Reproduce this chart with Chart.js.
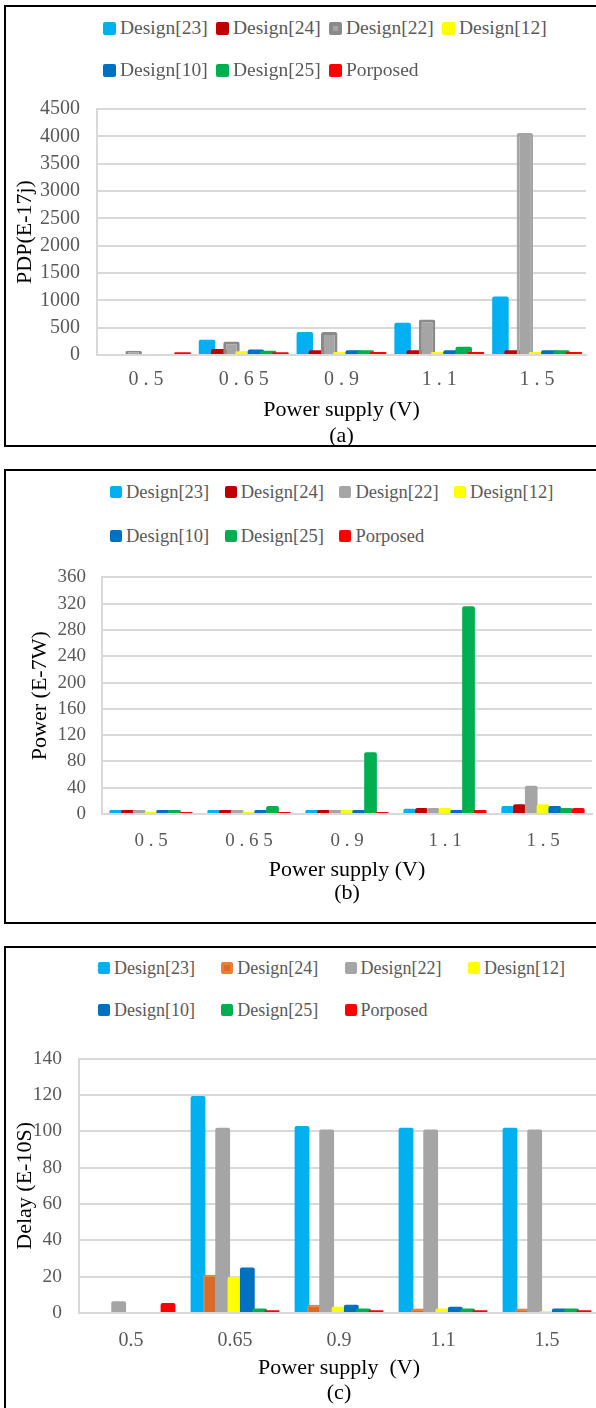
<!DOCTYPE html>
<html>
<head>
<meta charset="utf-8">
<script src="https://cdn.jsdelivr.net/npm/chart.js@4.4.1/dist/chart.umd.min.js"></script>
<style>
  html, body { margin: 0; padding: 0; background: #fff; }
  body { width: 596px; height: 1408px; overflow: hidden; position: relative;
         font-family: "Liberation Serif", "Times New Roman", serif; }
  .frame { position: absolute; border: 2px solid #000; box-sizing: border-box; }
  .item { position: absolute; display: flex; align-items: center; white-space: nowrap; color: #595959; }
  .swatch { box-sizing: border-box; border-radius: 2px; margin-right: 4px; flex: none; }
  canvas { position: absolute; left: 0; }
</style>
</head>
<body>
<script>
// ---- series and categories ----
const seriesNames = ['Design[23]', 'Design[24]', 'Design[22]', 'Design[12]', 'Design[10]', 'Design[25]', 'Porposed'];
const supplyLabelsSpaced = ['0 . 5', '0 . 6 5', '0 . 9', '1 . 1', '1 . 5'];
const supplyLabels = ['0.5', '0.65', '0.9', '1.1', '1.5'];

// (a) PDP, E-17 J
const pdpDesign23 = [null, 280, 420, 590, 1070];
const pdpDesign24 = [null, 110, 85, 85, 85];
const pdpDesign22 = [80, 245, 420, 650, 4060];
const pdpDesign12 = [null, 70, 55, 55, 55];
const pdpDesign10 = [null, 100, 85, 85, 85];
const pdpDesign25 = [null, 80, 85, 150, 85];
const pdpProposed = [50, 50, 55, 55, 55];

// (b) Power, E-7 W
const powDesign23 = [6, 6, 6, 8, 12];
const powDesign24 = [6, 6, 6, 9, 15];
const powDesign22 = [6, 6, 6, 9, 43];
const powDesign12 = [3.5, 3.5, 6, 9, 15];
const powDesign10 = [6, 6, 6, 6, 12];
const powDesign25 = [6, 12, 94, 316, 9];
const powProposed = [3, 3, 3, 6, 9];

// (c) Delay, E-10 s
const dlyDesign23 = [null, 119.5, 103, 102, 102];
const dlyDesign24 = [null, 21, 4.5, 2.5, 2.5];
const dlyDesign22 = [6.5, 102, 101, 101, 101];
const dlyDesign12 = [null, 20, 3.5, 2.5, 1];
const dlyDesign10 = [null, 25, 4.5, 3.5, 2.5];
const dlyDesign25 = [null, 2.5, 2.5, 2.5, 2.5];
const dlyProposed = [5.5, 1.5, 1.5, 1.5, 1.5];

// value axes
const pdpAxis = { max: 4500, step: 500 };
const powAxis = { max: 360, step: 40 };
const dlyAxis = { max: 140, step: 20 };

// ---- styling ----
const FONT = '"Liberation Serif", "Times New Roman", serif';
const TICK_GREY = '#595959';
const GRID_GREY = '#d9d9d9';
const fills = ['#00B0F0', '#C00000', '#A5A5A5', '#FFFF00', '#0070C0', '#00B050', '#FF0000'];

// later series are painted over earlier ones where bars overlap
const paintInSeriesOrder = {
  id: 'paintInSeriesOrder',
  beforeDatasetsDraw(chart) {
    chart.getSortedVisibleDatasetMetas().forEach(meta => meta.controller.draw());
    return false;
  }
};

function makeDatasets(valueLists, fillList, borderList, borderWidthList) {
  return valueLists.map((vals, i) => ({
    label: seriesNames[i],
    data: vals,
    backgroundColor: fillList[i],
    borderColor: borderList[i],
    borderWidth: borderWidthList[i],
    borderSkipped: 'start',
    borderRadius: 2
  }));
}

function buildPanel(p) {
  const frame = document.createElement('div');
  frame.className = 'frame';
  Object.assign(frame.style, { left: p.frame[0] + 'px', top: p.frame[1] + 'px',
    width: p.frame[2] + 'px', height: p.frame[3] + 'px' });
  document.body.appendChild(frame);

  const canvas = document.createElement('canvas');
  canvas.width = 610; canvas.height = p.canvasH;
  canvas.style.top = p.canvasTop + 'px';
  document.body.appendChild(canvas);

  const chart = new Chart(canvas, {
    type: 'bar',
    data: { labels: p.labels, datasets: p.datasets },
    plugins: [paintInSeriesOrder],
    options: {
      responsive: false,
      animation: false,
      devicePixelRatio: 1,
      layout: { padding: { top: p.padTop, right: p.padRight, left: 0, bottom: 0 } },
      datasets: { bar: { categoryPercentage: p.catPct, barPercentage: p.barPct } },
      plugins: { legend: { display: false }, tooltip: { enabled: false } },
      scales: {
        x: {
          ticks: { color: TICK_GREY, font: { family: FONT, size: p.xTickSize }, padding: p.xTickPad,
                   maxRotation: 0, autoSkip: false },
          grid: { display: false, drawTicks: false },
          border: { display: true, color: GRID_GREY, width: 2 },
          title: { display: true, text: p.xTitle, color: '#000',
                   font: { family: FONT, size: p.xTitleSize, lineHeight: p.xTitleLine / p.xTitleSize },
                   padding: { top: 0, bottom: p.xTitlePadBottom } },
          afterFit(s) { s.height = p.xAxisH; }
        },
        y: {
          min: 0, max: p.axis.max,
          ticks: { stepSize: p.axis.step, color: TICK_GREY, font: { family: FONT, size: p.yTickSize },
                   padding: p.yTickPad, format: { useGrouping: false } },
          grid: { color: GRID_GREY, lineWidth: 2, drawTicks: false },
          border: { display: true, color: GRID_GREY, width: 2 },
          title: { display: true, text: p.yTitle, color: '#000', font: { family: FONT, size: 22 },
                   padding: { top: p.yTitlePad, bottom: 0 } },
          afterFit(s) { s.width = p.yAxisW; }
        }
      }
    }
  });

  // legend in fixed columns, two rows
  chart.data.datasets.forEach((ds, i) => {
    const col = i % 4, row = Math.floor(i / 4);
    const item = document.createElement('div');
    item.className = 'item';
    item.style.left = (p.legend.x + col * p.legend.step) + 'px';
    item.style.top = (p.legend.rows[row] - 12) + 'px';
    item.style.height = '24px';
    item.style.fontSize = p.legend.size + 'px';
    const sw = document.createElement('span');
    sw.className = 'swatch';
    sw.style.width = sw.style.height = p.legend.box + 'px';
    const fill = Array.isArray(ds.backgroundColor) ? ds.backgroundColor[0] : ds.backgroundColor;
    const edge = Array.isArray(ds.borderColor) ? ds.borderColor[0] : ds.borderColor;
    const bw = Array.isArray(ds.borderWidth) ? ds.borderWidth[0] : ds.borderWidth;
    sw.style.background = fill;
    sw.style.border = (bw ? Math.min(bw + 1, 4) : 0) + 'px solid ' + edge;
    const tx = document.createElement('span');
    tx.textContent = ds.label;
    item.appendChild(sw); item.appendChild(tx);
    document.body.appendChild(item);
  });
  return chart;
}

// (a) PDP
buildPanel({
  frame: [4, 5, 640, 442],
  canvasTop: 80, canvasH: 380,
  padTop: 12, padRight: 24, yAxisW: 97, xAxisH: 105,
  catPct: 0.875, barPct: 1.35,
  labels: supplyLabelsSpaced,
  axis: pdpAxis,
  xTickSize: 20, xTickPad: 13, yTickSize: 20, yTickPad: 17,
  xTitle: ['Power supply (V)', '(a)'], xTitleSize: 22, xTitleLine: 26, xTitlePadBottom: 11,
  yTitle: 'PDP(E-17j)', yTitlePad: 12,
  legend: { x: 103, step: 113, rows: [28, 70], size: 19.5, box: 13 },
  datasets: makeDatasets(
    [pdpDesign23, pdpDesign24, pdpDesign22, pdpDesign12, pdpDesign10, pdpDesign25, pdpProposed],
    fills,
    ['#00B0F0', '#C00000', ['#8a8a8a', '#8a8a8a', '#8a8a8a', '#8a8a8a', '#A5A5A5'], '#FFFF00', '#0070C0', '#00B050', '#FF0000'],
    [0, 0, 3, 0, 0, 0, 0])
});

// (b) Power
buildPanel({
  frame: [4, 469, 640, 455],
  canvasTop: 550, canvasH: 360,
  padTop: 16, padRight: 18, yAxisW: 102, xAxisH: 96,
  catPct: 0.84, barPct: 1.08,
  labels: supplyLabelsSpaced,
  axis: powAxis,
  xTickSize: 19, xTickPad: 16, yTickSize: 19, yTickPad: 16,
  xTitle: ['Power supply (V)', '(b)'], xTitleSize: 22, xTitleLine: 23, xTitlePadBottom: 5,
  yTitle: 'Power (E-7W)', yTitlePad: 27,
  legend: { x: 110, step: 114.7, rows: [492, 536], size: 18.5, box: 12 },
  datasets: makeDatasets(
    [powDesign23, powDesign24, powDesign22, powDesign12, powDesign10, powDesign25, powProposed],
    fills, fills, [0, 0, 0, 0, 0, 0, 0])
});

// (c) Delay
buildPanel({
  frame: [4, 946, 640, 470],
  canvasTop: 1030, canvasH: 378,
  padTop: 14, padRight: 11, yAxisW: 79, xAxisH: 95,
  catPct: 0.83, barPct: 1.2,
  labels: supplyLabels,
  axis: dlyAxis,
  xTickSize: 20, xTickPad: 16, yTickSize: 19.5, yTickPad: 17,
  xTitle: ['Power supply  (V)', '(c)'], xTitleSize: 22, xTitleLine: 25, xTitlePadBottom: 2,
  yTitle: 'Delay (E-10S)', yTitlePad: 12,
  legend: { x: 98, step: 123.3, rows: [968, 1010], size: 18, box: 12 },
  datasets: makeDatasets(
    [dlyDesign23, dlyDesign24, dlyDesign22, dlyDesign12, dlyDesign10, dlyDesign25, dlyProposed],
    ['#00B0F0', '#D86C2C', '#A5A5A5', '#FFFF00', '#0070C0', '#00B050', '#FF0000'],
    ['#00B0F0', '#ED7D31', '#A5A5A5', '#FFFF00', '#0070C0', '#00B050', '#FF0000'],
    [0, 2, 0, 0, 0, 0, 0])
});
</script>
</body>
</html>
